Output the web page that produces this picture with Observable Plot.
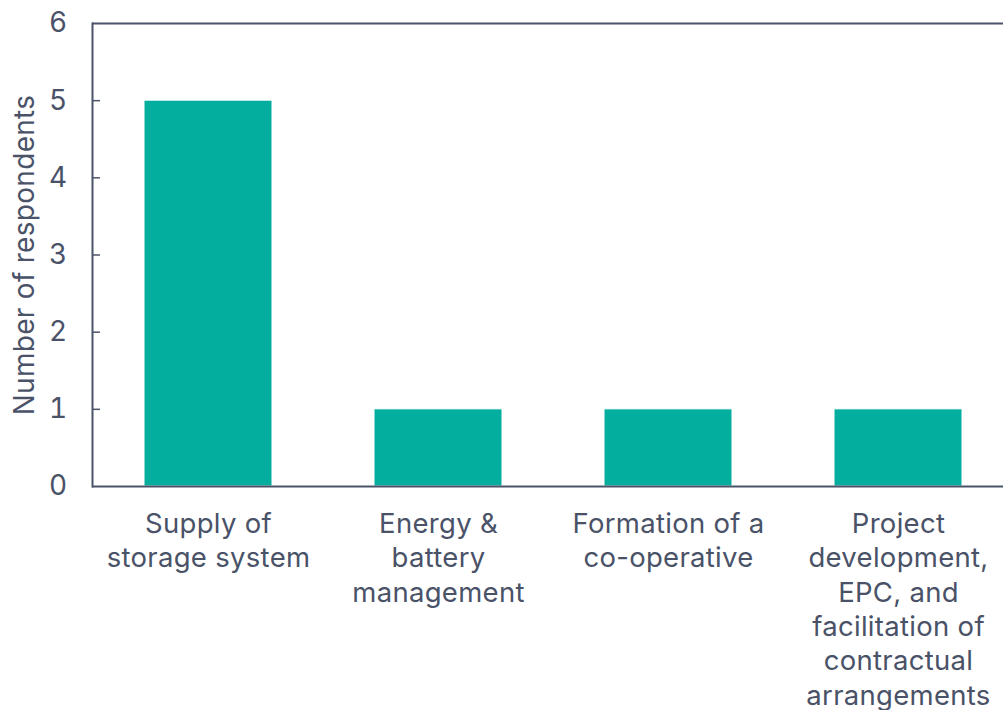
<!DOCTYPE html>
<html>
<head>
<meta charset="utf-8">
<script src="https://cdn.jsdelivr.net/npm/d3@7"></script>
<script src="https://cdn.jsdelivr.net/npm/@observablehq/plot@0.6"></script>
<style>
  html, body { margin: 0; padding: 0; background: #fff; }
  #chart svg { display: block; }
</style>
</head>
<body>
<div id="chart"></div>
<script>
const categories = [
  "Supply of storage system",
  "Energy & battery management",
  "Formation of a co-operative",
  "Project development, EPC, and facilitation of contractual arrangements"
];
const tickLabels = [
  "Supply of\nstorage system",
  "Energy &\nbattery\nmanagement",
  "Formation of a\nco-operative",
  "Project\ndevelopment,\nEPC, and\nfacilitation of\ncontractual\narrangements"
];
const values = [5, 1, 1, 1];
const yTicks = [0, 1, 2, 3, 4, 5, 6];
const innerTicks = [1, 2, 3, 4, 5];
const yLabel = "Number of respondents";

const data = categories.map((c, i) => ({category: c, value: values[i]}));
const labelOf = new Map(categories.map((c, i) => [c, tickLabels[i]]));

const textColor = "#4a5268";
const lineColor = "#4b5368";
const barColor = "#04ae9f";
const font = "Inter, sans-serif";

const chart = Plot.plot({
  width: 1003,
  height: 710,
  marginTop: 23,
  marginBottom: 224,
  marginLeft: 92,
  marginRight: 0,
  style: {fontFamily: font, fontSize: "27px", color: textColor, background: "#fff", letterSpacing: "0.3px"},
  x: {domain: categories, range: [92, 1014], paddingInner: 0.445, paddingOuter: 0.2225},
  y: {domain: [0, 6], range: [486, 23]},
  marks: [
    Plot.barY(data, {x: "category", y: "value", fill: barColor, stroke: "#ffffff", strokeWidth: 1}),
    Plot.tickY(innerTicks, {y: d => d, insetRight: 903, stroke: lineColor, strokeWidth: 1.5}),
    Plot.ruleY([0, 6], {stroke: lineColor, strokeWidth: 2}),
    Plot.frame({anchor: "left", stroke: lineColor, strokeWidth: 2}),
    Plot.axisY(yTicks, {tickSize: 0, tickPadding: 25, fontSize: 28, label: null, fill: textColor,
      tickFormat: d => String(d)}),
    Plot.axisX({tickSize: 0, tickPadding: 22, fontSize: 27.5, label: null, fill: textColor,
      tickFormat: d => labelOf.get(d), lineHeight: 1.25}),
    Plot.text([yLabel], {frameAnchor: "left", textAnchor: "middle", rotate: -90, dx: -67,
      fontSize: 28, fill: textColor})
  ]
});
document.getElementById("chart").appendChild(chart);
</script>
</body>
</html>
